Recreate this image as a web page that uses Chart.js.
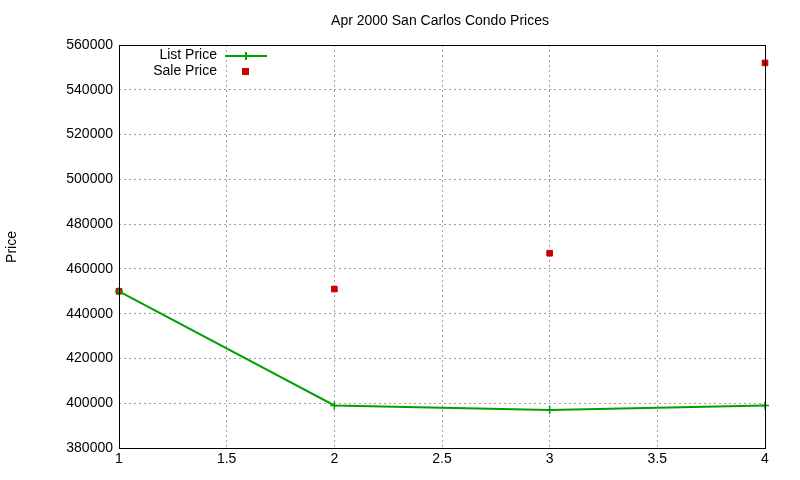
<!DOCTYPE html>
<html><head><script src="https://cdn.jsdelivr.net/npm/chart.js@4"></script>
<style>body{margin:0;background:#fff}#w{width:800px;height:480px}</style></head>
<body><div id="w"><canvas id="c"></canvas></div>
<script>
const xValues=[1,2,3,4];
const listPrice=[450000,399000,397000,399000];
const salePrice=[450000,451000,467000,552000];
const F='"Liberation Sans", Arial, sans-serif';
const deco={id:'deco',afterDraw(ch){const c=ch.ctx,a=ch.chartArea;c.save();
c.strokeStyle='#000';c.lineWidth=1;c.strokeRect(a.left+0.5,a.top+0.5,a.right-a.left,a.bottom-a.top);
c.fillStyle='#000';c.font='14px '+F;c.textAlign='center';c.textBaseline='middle';
c.fillText('Apr 2000 San Carlos Condo Prices',440,21);
c.save();c.translate(12,247);c.rotate(-Math.PI/2);c.fillText('Price',0,0);c.restore();
c.textAlign='right';c.fillText('List Price',217,55);c.fillText('Sale Price',217,71);
c.strokeStyle='#00a000';c.lineWidth=2;c.beginPath();c.moveTo(225,56);c.lineTo(267,56);c.moveTo(246,52);c.lineTo(246,60);c.stroke();
c.fillStyle='#cc0000';c.fillRect(242,68,7,7);
c.restore();}};
new Chart(document.getElementById('c'),{type:'scatter',
data:{datasets:[
{label:'List Price',data:xValues.map((x,i)=>({x,y:listPrice[i]})),showLine:true,clip:false,borderColor:'#00a000',borderWidth:2,pointStyle:'cross',pointRadius:4,pointBorderColor:'#00a000',pointBorderWidth:1.5,tension:0},
{label:'Sale Price',data:xValues.map((x,i)=>({x,y:salePrice[i]})),clip:false,pointStyle:'rect',pointRadius:4,backgroundColor:'#cc0000',borderColor:'#cc0000'}]},
options:{responsive:true,maintainAspectRatio:false,animation:false,
layout:{padding:{top:45,right:35,left:0,bottom:0}},
plugins:{legend:{display:false},title:{display:false},tooltip:{enabled:false}},
scales:{
x:{type:'linear',min:1,max:4,ticks:{stepSize:0.5,color:'#000',font:{size:14,family:F},callback:v=>String(v)},grid:{color:'#a0a0a0',drawTicks:false},border:{display:false,dash:[2,3]},afterFit(s){s.height=32;}},
y:{min:380000,max:560000,ticks:{stepSize:20000,color:'#000',font:{size:14,family:F},padding:6,callback:v=>String(v)},grid:{color:'#a0a0a0',drawTicks:false},border:{display:false,dash:[2,3]},afterFit(s){s.width=119;}}
}},plugins:[deco]});
</script></body></html>
